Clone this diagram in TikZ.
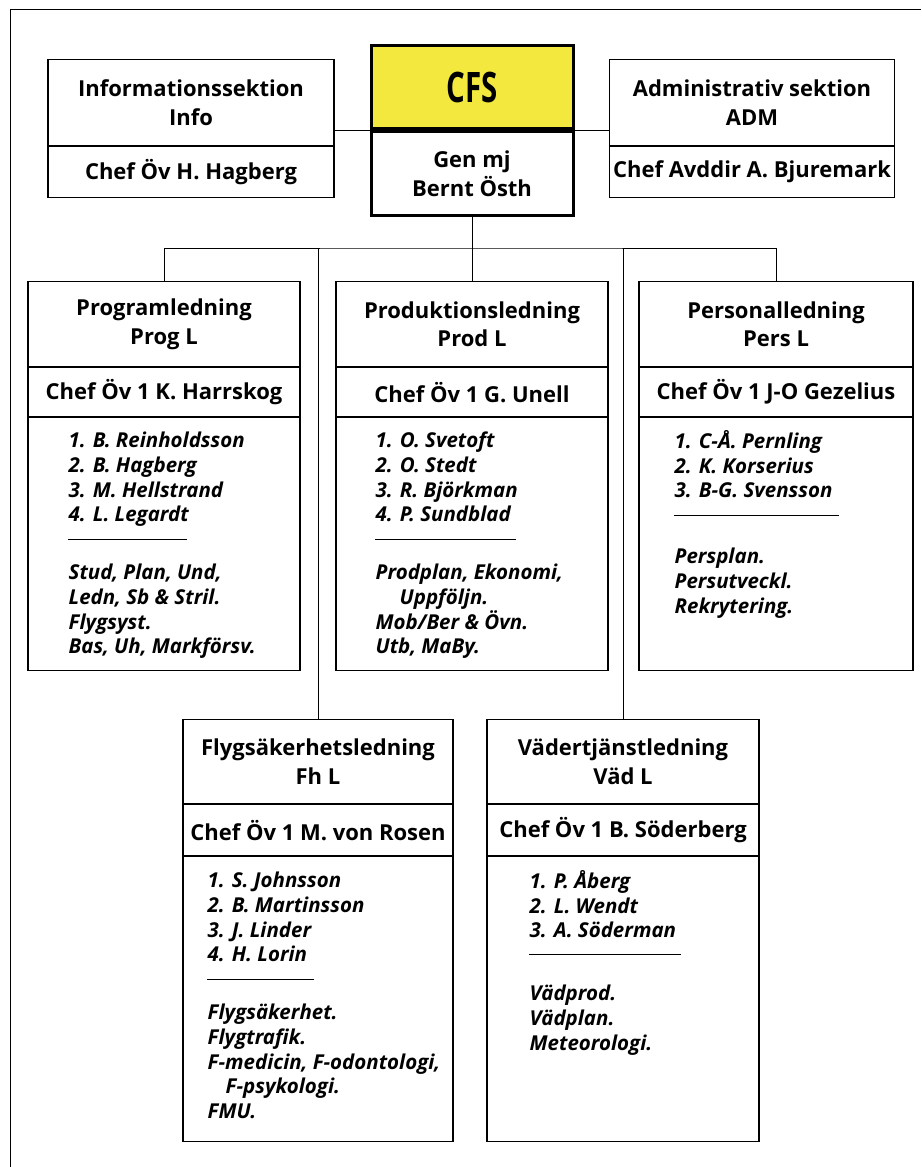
\documentclass[tikz,border=0pt]{standalone}
\usepackage{fontspec}
\setmainfont{Open Sans}
\usepackage{graphicx}
\usetikzlibrary{positioning}
\definecolor{cfsyellow}{RGB}{242,232,62}
\tikzset{box/.style = {draw, line width=1.1pt, inner sep=0pt, align=center, anchor=north,
                       font=\fontsize{22}{28.5}\selectfont\bfseries},
         chef/.style = {box, font=\fontsize{22}{28}\selectfont\bfseries},
         body/.style = {draw, line width=1.1pt, inner sep=0pt, anchor=north},
         names/.style = {inner sep=0pt, align=left, anchor=north west,
                         font=\fontsize{20.5}{24.7}\selectfont\bfseries\itshape},
         link/.style = {line width=0.9pt},
         rule/.style = {line width=0.9pt}}

\begin{document}
\begin{tikzpicture}[x=1pt, y=-1pt]
      \useasboundingbox (0,0) rectangle (921,1167);
      \draw [line width=1pt] (10,1167) -- (10,9) -- (921,9);
      % top row
      \node [box, fill=cfsyellow, line width=3pt, minimum width=202, minimum height=83] (cfsh) at (472,44)
            {\scalebox{0.7}[1]{\fontsize{42}{42}\selectfont\bfseries CFS}};
      \node [box, line width=3pt, minimum width=202, minimum height=84, below=0pt of cfsh] (cfsc) {Gen mj\\Bernt Östh};
      \node [box, minimum width=286, minimum height=86] (infoh) at (191,59) {Informationssektion\\Info};
      \node [chef, minimum width=286, minimum height=51, below=0pt of infoh] (infoc) {Chef Öv H. Hagberg};
      \node [box, minimum width=285, minimum height=86] (admh) at (752,59) {Administrativ sektion\\ADM};
      \node [chef, minimum width=285, minimum height=51, below=0pt of admh] (admc) {Chef Avddir A. Bjuremark};
      \draw [link] (cfsh.south west) -- (cfsh.south west -| infoh.east);
      \draw [link] (cfsh.south east) -- (cfsh.south east -| admh.west);
      \coordinate (bar) at (472,248);
      % ledningar
      \node [box, minimum width=272, minimum height=85] (progh) at (164,281) {Programledning\\Prog L};
      \node [chef, minimum width=272, minimum height=49, below=0pt of progh] (progc) {Chef Öv 1 K. Harrskog};
      \node [body, minimum width=272, minimum height=253, below=0pt of progc] (progb) {};
      \node [box, minimum width=272, minimum height=85] (prodh) at (472,281) {Produktionsledning\\Prod L};
      \node [chef, minimum width=272, minimum height=49, below=0pt of prodh] (prodc) {Chef Öv 1 G. Unell};
      \node [body, minimum width=272, minimum height=253, below=0pt of prodc] (prodb) {};
      \node [box, minimum width=274, minimum height=85] (persh) at (776,281) {Personalledning\\Pers L};
      \node [chef, minimum width=274, minimum height=49, below=0pt of persh] (persc) {Chef Öv 1 J-O Gezelius};
      \node [body, minimum width=274, minimum height=253, below=0pt of persc] (persb) {};
      \node [box, minimum width=270, minimum height=84] (fhh) at (318,719) {Flygsäkerhetsledning\\Fh L};
      \node [chef, minimum width=270, minimum height=51, below=0pt of fhh] (fhc) {Chef Öv 1 M. von Rosen};
      \node [body, minimum width=270, minimum height=285, below=0pt of fhc] (fhb) {};
      \node [box, minimum width=272, minimum height=84] (vadh) at (623,719) {Vädertjänstledning\\Väd L};
      \node [chef, minimum width=272, minimum height=51, below=0pt of vadh] (vadc) {Chef Öv 1 B. Söderberg};
      \node [body, minimum width=272, minimum height=285, below=0pt of vadc] (vadb) {};
      \draw [link] (cfsc.south) -- (bar);
      \draw [link] (progh.north) |- (bar) -| (persh.north);
      \draw [link] (prodh.north) -- (prodh.north |- bar);
      \draw [link] (fhh.north) -- (fhh.north |- bar);
      \draw [link] (vadh.north) -- (vadh.north |- bar);
      % texts in the bodies
      \node [names, below right=13pt and 41pt of progb.north west] (progn)
            {\strut 1. B. Reinholdsson\\2. B. Hagberg\\3. M. Hellstrand\\4. L. Legardt};
      \draw [rule] ([shift={(41,122)}]progb.north west) -- ++(119,0);
      \node [names, below right=145pt and 41pt of progb.north west] (progt)
            {\strut Stud, Plan, Und,\\Ledn, Sb \& Stril.\\Flygsyst.\\Bas, Uh, Markförsv.};
      \node [names, below right=13pt and 40pt of prodb.north west] (prodn)
            {\strut 1. O. Svetoft\\2. O. Stedt\\3. R. Björkman\\4. P. Sundblad};
      \draw [rule] ([shift={(40,122)}]prodb.north west) -- ++(141,0);
      \node [names, below right=145pt and 40pt of prodb.north west] (prodt)
            {\strut Prodplan, Ekonomi,\\\hspace*{24pt}Uppföljn.\\Mob/Ber \& Övn.\\Utb, MaBy.};
      \node [names, below right=13pt and 36pt of persb.north west] (persn)
            {\strut 1. C-Å. Pernling\\2. K. Korserius\\3. B-G. Svensson};
      \draw [rule] ([shift={(36,98)}]persb.north west) -- ++(165,0);
      \node [names, below right=129pt and 36pt of persb.north west] (perst)
            {\strut Persplan.\\Persutveckl.\\Rekrytering.};
      \node [names, below right=14pt and 25pt of fhb.north west] (fhn)
            {\strut 1. S. Johnsson\\2. B. Martinsson\\3. J. Linder\\4. H. Lorin};
      \draw [rule] ([shift={(25,123)}]fhb.north west) -- ++(107,0);
      \node [names, below right=146pt and 25pt of fhb.north west] (fht)
            {\strut Flygsäkerhet.\\Flygtrafik.\\F-medicin, F-odontologi,\\\hspace*{18pt}F-psykologi.\\FMU.};
      \node [names, below right=14pt and 43pt of vadb.north west] (vadn)
            {\strut 1. P. Åberg\\2. L. Wendt\\3. A. Söderman};
      \draw [rule] ([shift={(43,98)}]vadb.north west) -- ++(152,0);
      \node [names, below right=127pt and 43pt of vadb.north west] (vadt)
            {\strut Vädprod.\\Vädplan.\\Meteorologi.};
\end{tikzpicture}
\end{document}
